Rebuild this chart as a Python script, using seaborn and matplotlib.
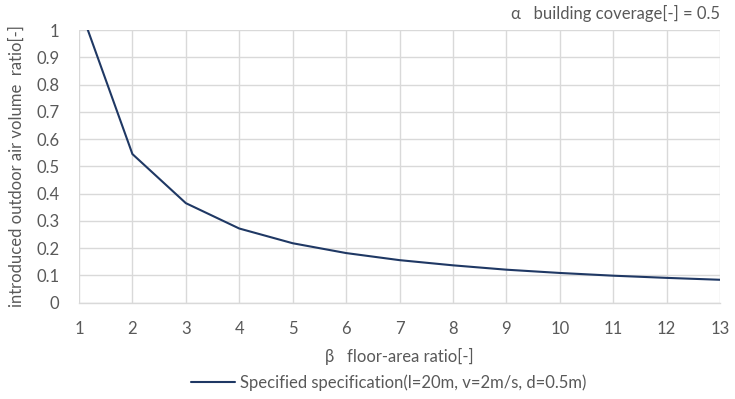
import pandas as pd
import seaborn as sns
import matplotlib.pyplot as plt

# floor-area ratio and the introduced outdoor air volume ratio
floor_area_ratio = [1, 2, 3, 4, 5, 6, 7, 8, 9, 10, 11, 12, 13]
air_volume_ratio = [1.09, 0.545, 0.365, 0.272, 0.218, 0.182, 0.156, 0.137, 0.121, 0.109, 0.099, 0.091, 0.084]
series_name = "Specified specification(l=20m, v=2m/s, d=0.5m)"
x_ticks = list(range(1, 14))
y_ticks = [0, 0.1, 0.2, 0.3, 0.4, 0.5, 0.6, 0.7, 0.8, 0.9, 1]
y_tick_labels = ["0", "0.1", "0.2", "0.3", "0.4", "0.5", "0.6", "0.7", "0.8", "0.9", "1"]

df = pd.DataFrame({"beta": floor_area_ratio, "ratio": air_volume_ratio, "series": series_name})

sns.set_theme(style="whitegrid")
plt.rcParams['font.family'] = ['Lato', 'DejaVu Sans']
grey = "#595959"

f = plt.figure(figsize=(7.35, 3.99), dpi=100)
ax = f.add_axes([0.1075, 0.2414, 0.8721, 0.6834])

sns.lineplot(data=df, x="beta", y="ratio", hue="series", palette=["#1f3864"],
             linewidth=1.5, ax=ax, legend=False)

ax.set_xlim(1, 13)
ax.set_ylim(0, 1)
ax.set_xticks(x_ticks)
ax.set_yticks(y_ticks)
ax.set_yticklabels(y_tick_labels)
ax.tick_params(colors=grey, labelsize=12, length=0)
ax.tick_params(axis="x", pad=13)
ax.tick_params(axis="y", pad=14)
ax.grid(color="#d9d9d9", linewidth=1)
ax.set_facecolor("white")
for side in ["left", "right", "top"]:
    ax.spines[side].set_visible(False)
ax.spines["bottom"].set_color("#d9d9d9")
ax.spines["bottom"].set_linewidth(1)

ax.set_xlabel("β   floor-area ratio[-]", color=grey, fontsize=12, labelpad=8)
ax.set_ylabel("introduced outdoor air volume  ratio[-]", color=grey, fontsize=12)
ax.yaxis.set_label_coords(-0.085, 0.5)

f.text(0.98, 0.965, "α   building coverage[-] = 0.5", color=grey, fontsize=12, ha="right", va="center")

# legend at the bottom
handle = plt.Line2D([], [], color="#1f3864", linewidth=1.5)
f.legend([handle], [series_name], loc="center", bbox_to_anchor=(0.529, 0.04), frameon=False,
         fontsize=12, labelcolor=grey, handlelength=2.6, handletextpad=0.3)

f.savefig("out.png", dpi=100)
